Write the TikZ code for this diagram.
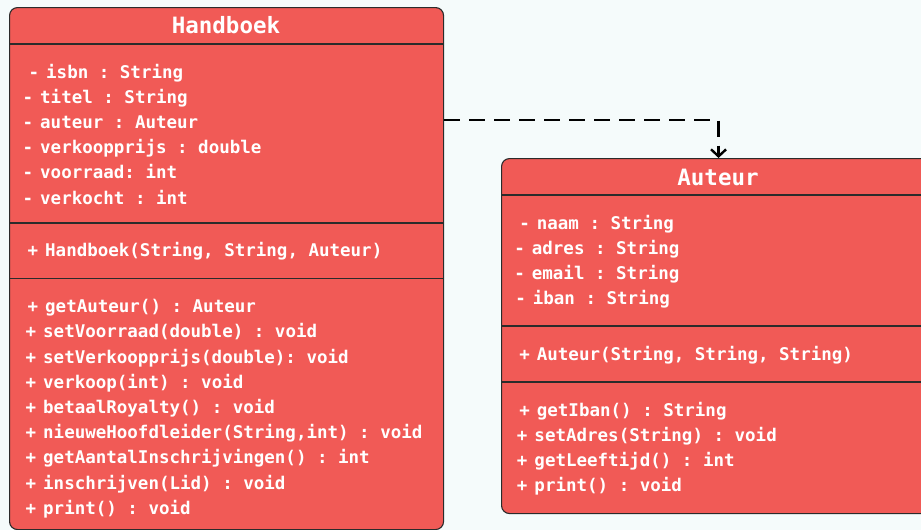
\documentclass[tikz,border=0pt]{standalone}
\usepackage{fontspec}
\setmonofont{DejaVu Sans Mono}
\usetikzlibrary{arrows.meta}
\definecolor{bgcol}{HTML}{F5FBFB}
\definecolor{clscol}{HTML}{F15A56}
\definecolor{edgecol}{HTML}{2B2B2B}
\newcommand\mline[2]{\llap{#1\hspace{7pt}}#2}
\tikzset{
  classbox/.style={draw=edgecol, line width=1.1pt, fill=clscol, rounded corners=8pt, inner sep=0pt, anchor=north west},
  divider/.style={draw=edgecol, line width=1.1pt},
  member/.style={anchor=base west, inner sep=0pt, text=white, font=\fontsize{17.5}{20}\selectfont\ttfamily\bfseries},
  title/.style={anchor=base, inner sep=0pt, text=white, font=\fontsize{22.5}{26}\selectfont\ttfamily\bfseries},
  dep/.style={draw=black, line width=2.6pt, dash pattern=on 16pt off 9pt, -{Straight Barb[length=7pt,width=15pt,line width=2.4pt]}}
}
\begin{document}
\begin{tikzpicture}[x=1pt,y=-1pt]
\useasboundingbox (0,0) rectangle (921,530);
\clip (0,0) rectangle (921,530);
\fill[bgcol] (0,0) rectangle (921,530);

% Handboek
\node[classbox, minimum width=434pt, minimum height=522pt] (handboek) at (9,7) {};
\draw[divider] (9,44) -- (443,44);
\draw[divider] (9,223) -- (443,223);
\draw[divider] (9,278.5) -- (443,278.5);
\node[title] (hbt) at (226,33) {Handboek};
\node[member] (h1) at (46,78) {\mline{-}{isbn : String}};
\node[member] (h2) at (40,103.2) {\mline{-}{titel : String}};
\node[member] (h3) at (40,128.4) {\mline{-}{auteur : Auteur}};
\node[member] (h4) at (40,153.6) {\mline{-}{verkoopprijs : double}};
\node[member] (h5) at (40,178.8) {\mline{-}{voorraad: int}};
\node[member] (h6) at (40,204) {\mline{-}{verkocht : int}};
\node[member] (hc) at (45,256.7) {\mline{+}{Handboek(String, String, Auteur)}};
\node[member] (m1) at (45,312.7) {\mline{+}{getAuteur() : Auteur}};
\node[member] (m2) at (43,337.9) {\mline{+}{setVoorraad(double) : void}};
\node[member] (m3) at (43,363.1) {\mline{+}{setVerkoopprijs(double): void}};
\node[member] (m4) at (43,388.3) {\mline{+}{verkoop(int) : void}};
\node[member] (m5) at (43,413.5) {\mline{+}{betaalRoyalty() : void}};
\node[member] (m6) at (43,438.7) {\mline{+}{nieuweHoofdleider(String,int) : void}};
\node[member] (m7) at (43,463.9) {\mline{+}{getAantalInschrijvingen() : int}};
\node[member] (m8) at (43,489.1) {\mline{+}{inschrijven(Lid) : void}};
\node[member] (m9) at (43,514.3) {\mline{+}{print() : void}};

% Auteur
\node[classbox, minimum width=434pt, minimum height=355pt] (auteur) at (501,158) {};
\draw[divider] (501,195) -- (935,195);
\draw[divider] (501,326) -- (935,326);
\draw[divider] (501,382) -- (935,382);
\node[title] (aut) at (718,185) {Auteur};
\node[member] (a1) at (536.7,229) {\mline{-}{naam : String}};
\node[member] (a2) at (531.7,254.3) {\mline{-}{adres : String}};
\node[member] (a3) at (531.7,279.6) {\mline{-}{email : String}};
\node[member] (a4) at (532.7,304.9) {\mline{-}{iban : String}};
\node[member] (ac) at (536.7,360) {\mline{+}{Auteur(String, String, String)}};
\node[member] (b1) at (536.7,416) {\mline{+}{getIban() : String}};
\node[member] (b2) at (534.3,441.2) {\mline{+}{setAdres(String) : void}};
\node[member] (b3) at (534.3,466.4) {\mline{+}{getLeeftijd() : int}};
\node[member] (b4) at (534.3,491.6) {\mline{+}{print() : void}};

% dependency
\coordinate (bend) at (718,120);
\draw[dep] (handboek.east |- bend) -| (auteur.north);
\end{tikzpicture}
\end{document}
